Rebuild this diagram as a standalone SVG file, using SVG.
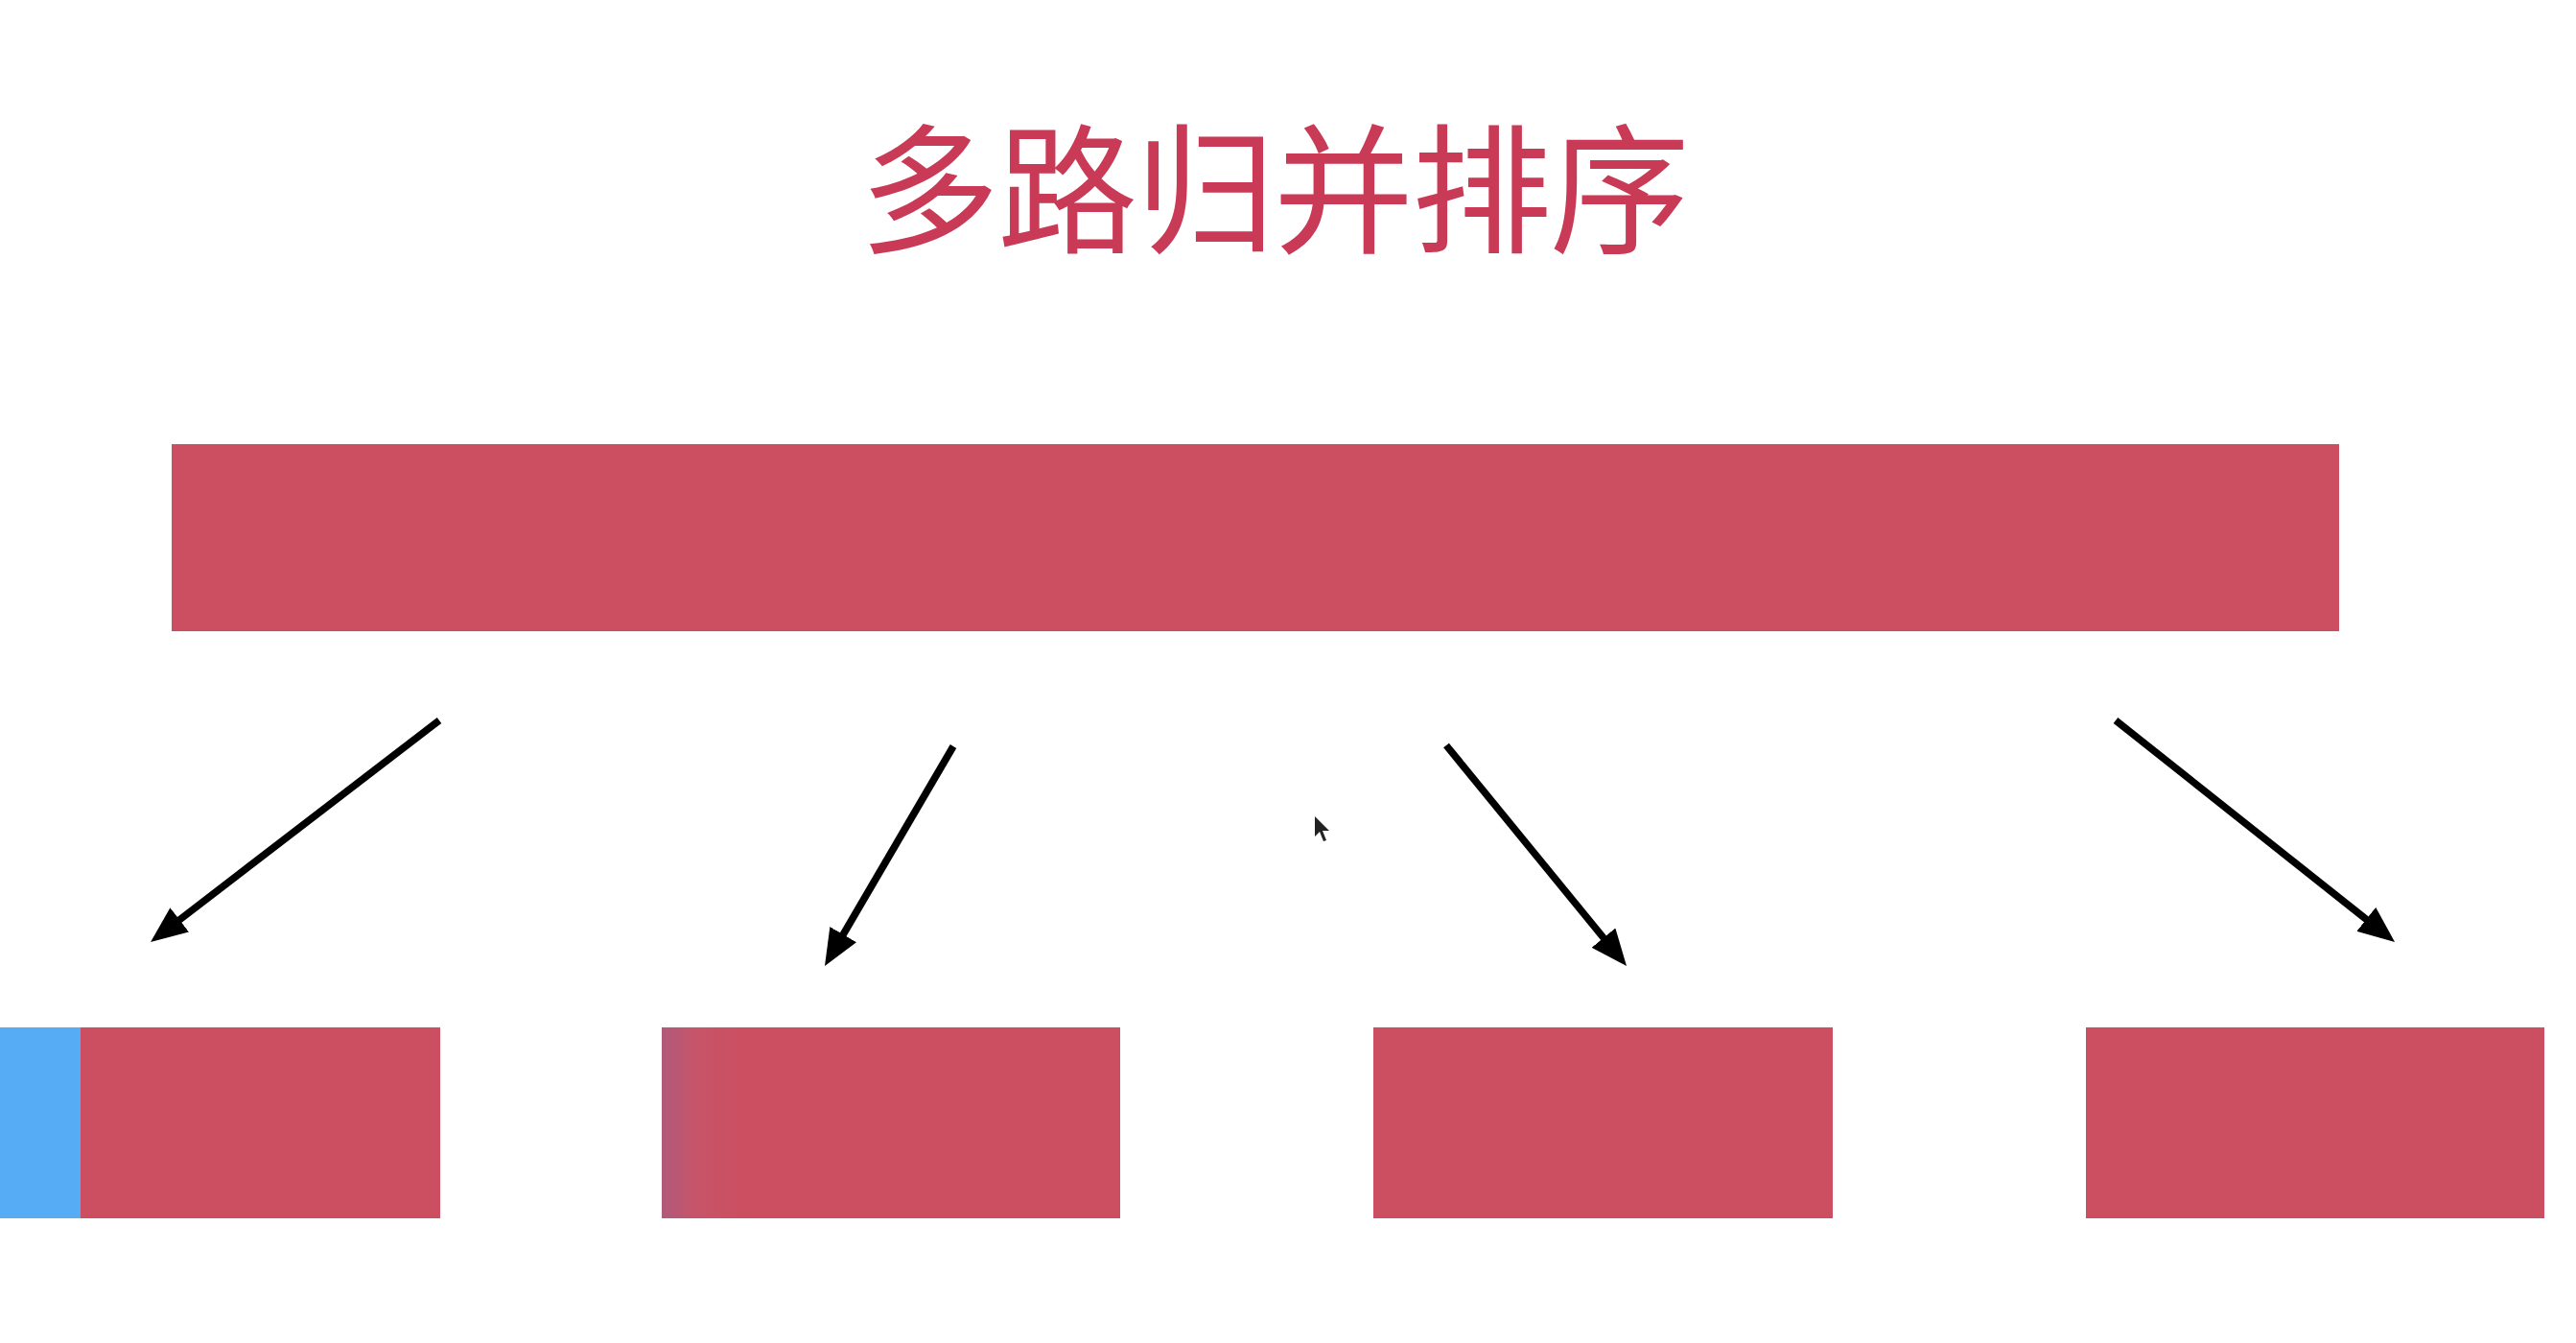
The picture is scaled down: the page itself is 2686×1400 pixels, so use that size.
<svg xmlns="http://www.w3.org/2000/svg" width="2686" height="1400" viewBox="0 0 2686 1400">
  <style>
    .bar { fill: #cb4f61; }
    .title { font-family: "Noto Sans CJK SC", "Noto Sans", sans-serif; font-size: 146px; font-weight: 400; fill: #c93a56; }
    .conn { stroke: #000; stroke-width: 7.5; fill: none; }
  </style>
  <defs>
    <marker id="ah" viewBox="0 0 38 32" refX="16" refY="16" markerWidth="38" markerHeight="32" markerUnits="userSpaceOnUse" orient="auto">
      <path d="M0,0 L38,16 L0,32 z" fill="#000"/>
    </marker>
    <linearGradient id="g2" gradientUnits="userSpaceOnUse" x1="690" y1="0" x2="770" y2="0">
      <stop offset="0" stop-color="#b15a7c"/>
      <stop offset="0.45" stop-color="#c65468"/>
      <stop offset="1" stop-color="#cb4f61"/>
    </linearGradient>
  </defs>
  <rect width="2686" height="1400" fill="#fff"/>

  <g id="title">
    <text class="title" x="1328" y="252" text-anchor="middle" letter-spacing="-2">多路归并排序</text>
  </g>

  <g id="source">
    <rect class="bar" x="179" y="463" width="2260" height="195"/>
  </g>

  <g id="part1">
    <rect class="bar" x="84" y="1071" width="375" height="199"/>
    <rect x="0" y="1071" width="84" height="199" fill="#56adf5"/>
  </g>
  <g id="part2">
    <rect class="bar" x="690" y="1071" width="478" height="199"/>
    <rect x="690" y="1071" width="80" height="199" fill="url(#g2)"/>
  </g>
  <g id="part3">
    <rect class="bar" x="1432" y="1071" width="479" height="199"/>
  </g>
  <g id="part4">
    <rect class="bar" x="2175" y="1071" width="478" height="199"/>
  </g>

  <g id="connectors">
    <line class="conn" x1="458" y1="751" x2="174.5" y2="968.6" marker-end="url(#ah)"/>
    <line class="conn" x1="994" y1="778" x2="871.1" y2="988.0" marker-end="url(#ah)"/>
    <line class="conn" x1="1508" y1="777" x2="1682.1" y2="990.0" marker-end="url(#ah)"/>
    <line class="conn" x1="2206" y1="751" x2="2479.8" y2="968.3" marker-end="url(#ah)"/>
  </g>

  <g id="cursor">
    <path d="M1371,851 L1371,872 L1376,867 L1380,877 L1383,876 L1379,866 L1386,866 z" fill="#222"/>
  </g>
</svg>
